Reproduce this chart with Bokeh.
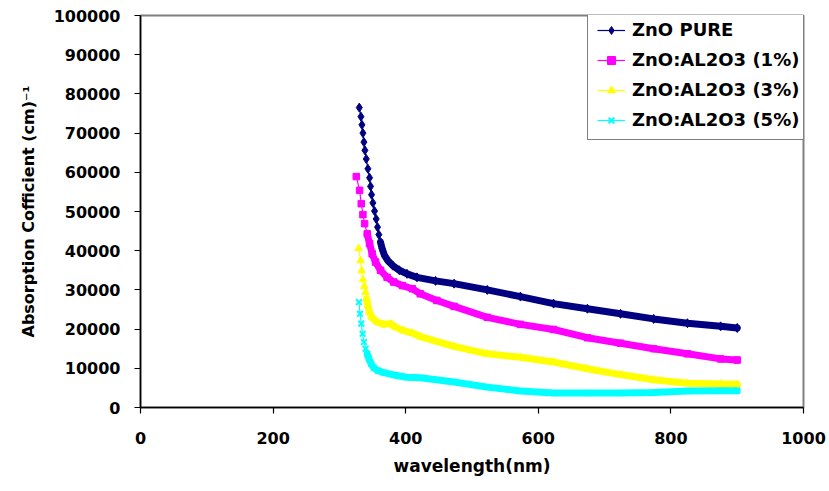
from bokeh.plotting import figure
from bokeh.models import Legend, LegendItem, Range1d, SingleIntervalTicker, NumeralTickFormatter
from bokeh.embed import file_html
from bokeh.resources import INLINE

# ---------------- data ----------------
wavelength_pure = [330, 332.5, 334, 335.5, 337, 338.5, 340.5, 343, 345.5, 347, 348.5, 350.5,
                   353, 355.5, 357.5, 359.5, 362, 364.5, 368, 373, 380.5, 390.5, 402, 417,
                   445, 473, 523, 573, 623, 674, 724, 774, 825, 875, 900]
absorption_pure = [76500, 74200, 72100, 70000, 67700, 65600, 63400, 60900, 58600, 56400, 54300, 52200,
                   50100, 48100, 46000, 44100, 42200, 40500, 38800, 37500, 36200, 35000, 34100, 33200,
                   32300, 31600, 30000, 28300, 26500, 25200, 23900, 22600, 21500, 20700, 20300]

wavelength_1pct = [325.5, 330.5, 333, 335.5, 338, 342, 345.5, 349.5, 354.5, 362, 372, 382, 395, 410,
                   422, 447, 473, 523, 573, 623, 674, 724, 774, 825, 875, 900]
absorption_1pct = [58900, 55400, 52000, 49200, 46900, 44300, 41800, 39200, 37100, 35000, 33200, 32000, 31100, 30300,
                   29000, 27300, 25800, 23000, 21200, 19900, 17800, 16400, 15000, 13700, 12400, 12100]

wavelength_3pct = [329, 332, 333.5, 335.5, 337.5, 339.5, 341, 343, 345.5, 349.5, 357, 367, 377, 384.5,
                   397, 410, 422, 473, 523, 573, 623, 674, 724, 774, 825, 875, 900]
absorption_3pct = [40600, 37500, 34900, 32600, 30900, 29400, 27700, 26000, 24300, 22900, 21800, 21200, 21400, 20500,
                   19600, 19000, 18100, 15600, 13700, 12800, 11600, 9900, 8400, 7100, 6200, 6000, 5900]

wavelength_5pct = [329.5, 331, 333, 335, 337, 339.5, 342, 344.5, 348, 352, 358, 367, 382, 402,
                   422, 473, 523, 573, 623, 674, 724, 774, 825, 875, 900]
absorption_5pct = [26900, 23900, 21400, 18800, 16700, 15000, 13700, 12400, 11100, 10100, 9400, 8900, 8300, 7700,
                   7600, 6500, 5200, 4200, 3700, 3700, 3700, 3800, 4200, 4300, 4300]

series_labels = ["ZnO PURE", "ZnO:AL2O3 (1%)", "ZnO:AL2O3 (3%)", "ZnO:AL2O3 (5%)"]
x_ticks_interval = 200
y_ticks_interval = 10000

# ---------------- styling ----------------
FONT = "DejaVu Sans"
styles = [
    dict(color="#000080", marker="diamond", size=9, lw=1, band_from=362),
    dict(color="#FF00FF", marker="square", size=6.5, lw=1, band_from=340),
    dict(color="#FFFF00", marker="triangle", size=7.5, lw=1, band_from=341),
    dict(color="#00FFFF", marker="x", size=8, lw=2, band_from=342),
]
all_series = [
    (wavelength_pure, absorption_pure),
    (wavelength_1pct, absorption_1pct),
    (wavelength_3pct, absorption_3pct),
    (wavelength_5pct, absorption_5pct),
]

p = figure(frame_width=663, frame_height=392,
           min_border_left=140, min_border_right=26, min_border_top=15, min_border_bottom=84,
           x_range=Range1d(0, 1000), y_range=Range1d(0, 100000),
           output_backend="svg", toolbar_location=None)
p.background_fill_color = "white"
p.border_fill_color = "white"
p.outline_line_color = "#808080"
p.outline_line_width = 2
p.xgrid.visible = False
p.ygrid.visible = False

p.xaxis.ticker = SingleIntervalTicker(interval=x_ticks_interval)
p.yaxis.ticker = SingleIntervalTicker(interval=y_ticks_interval)
p.yaxis.formatter = NumeralTickFormatter(format="0")
for ax in (p.xaxis[0], p.yaxis[0]):
    ax.axis_line_color = "#000000"
    ax.axis_line_width = 1.5
    ax.major_tick_line_color = "#000000"
    ax.major_tick_line_width = 1.2
    ax.major_tick_out = 6
    ax.major_tick_in = 0
    ax.minor_tick_line_color = None
    ax.major_label_text_font = FONT
    ax.major_label_text_font_style = "bold"
    ax.major_label_text_font_size = "16px"
    ax.major_label_text_color = "#000000"
    ax.axis_label_text_font = FONT
    ax.axis_label_text_font_style = "bold"
    ax.axis_label_text_color = "#000000"

p.xaxis.major_label_standoff = 18
p.yaxis.major_label_standoff = 14
p.xaxis.axis_label = "wavelength(nm)"
p.yaxis.axis_label = "Absorption Cofficient (cm)\u207b\u00b9"
p.xaxis.axis_label_text_font_size = "17px"
p.yaxis.axis_label_text_font_size = "16px"
p.xaxis.axis_label_standoff = 9
p.yaxis.axis_label_standoff = 13

legend_items = []
for (xs, ys), st, label in zip(all_series, styles, series_labels):
    thin = p.line(xs, ys, line_color=st["color"], line_width=1.2)
    bx = [x for x in xs if x >= st["band_from"]]
    by = [y for x, y in zip(xs, ys) if x >= st["band_from"]]
    p.line(bx, by, line_color=st["color"], line_width=7, line_cap="round", line_join="round")
    sc = p.scatter(xs, ys, marker=st["marker"], size=st["size"],
                   fill_color=st["color"], line_color=st["color"], line_width=st["lw"])
    legend_items.append(LegendItem(label=label, renderers=[thin, sc]))

legend = Legend(items=legend_items, location=(447, 267))
legend.label_text_font = FONT
legend.label_text_font_style = "bold"
legend.label_text_font_size = "18px"
legend.label_text_color = "#000000"
legend.border_line_color = "#000000"
legend.border_line_width = 1
legend.background_fill_color = "white"
legend.background_fill_alpha = 1
legend.padding = 9
legend.spacing = 9
legend.margin = 0
legend.glyph_width = 28
legend.glyph_height = 20
legend.label_height = 20
legend.label_standoff = 7
p.add_layout(legend, "center")

open("out.html", "w").write(file_html(p, INLINE))
